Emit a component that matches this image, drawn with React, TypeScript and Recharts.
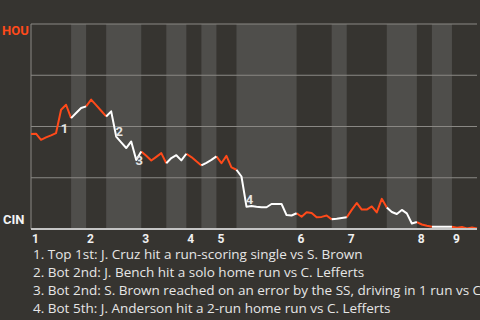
import React from 'react';
import { LineChart, Line, XAxis, YAxis, ReferenceArea, ReferenceLine, ReferenceDot } from 'recharts';

// Inning labels and the event index where each inning's top half starts
const innings = ['1', '2', '3', '4', '5', '6', '7', '8', '9'];
const inningStartEvents = [0, 11, 22, 31, 37, 53, 63, 77, 84];
// Boundaries of each half inning (top, bottom, top, bottom, ...) in event index
const halfInningBounds = [0, 8, 11, 15, 22, 27, 31, 34, 37, 41, 53, 60, 63, 71, 77, 80, 84, 89];
// HOU win probability (%) after each event
const houWinPct = [
  46.3, 46.5, 43.5, 44.7, 45.7, 46.8, 58.2, 60.6, 54.1, 56.6,
  59.0, 59.8, 63.1, 60.4, 57.7, 54.9, 57.4, 45.1, 42.3, 39.5,
  42.7, 33.7, 37.8, 35.7, 33.4, 35.2, 37.0, 32.1, 34.6, 36.0,
  33.5, 36.7, 35.1, 33.0, 31.0, 32.3, 33.7, 35.4, 32.1, 35.7,
  30.1, 28.9, 25.6, 10.9, 11.2, 10.8, 10.6, 10.6, 12.2, 12.2,
  12.2, 6.8, 6.6, 7.7, 6.0, 8.2, 7.8, 5.7, 5.9, 6.6,
  4.7, 5.0, 5.4, 5.7, 9.3, 12.7, 9.5, 9.5, 11.0, 8.1,
  14.7, 10.5, 8.3, 7.3, 9.3, 7.6, 2.7, 3.4, 2.2, 1.6,
  1.1, 1.1, 1.1, 1.1, 1.1, 0.6, 1.0, 0.3, 0.7, 0.2,
];
const yTicks = [25, 50, 75, 100];
const notes = [
  '1. Top 1st: J. Cruz hit a run-scoring single vs S. Brown',
  '2. Bot 2nd: J. Bench hit a solo home run vs C. Lefferts',
  '3. Bot 2nd: S. Brown reached on an error by the SS, driving in 1 run vs C. Lefferts',
  '4. Bot 5th: J. Anderson hit a 2-run home run vs C. Lefferts',
];
const noteMarkers = [
  { label: '1', event: 6.7, pct: 48.9 },
  { label: '2', event: 17.6, pct: 47.5 },
  { label: '3', event: 21.6, pct: 33.7 },
  { label: '4', event: 43.6, pct: 14.3 },
];

const ORANGE = '#ff4a1a';
const WHITE = '#ffffff';
const BG = '#363430';
const BAND = '#4f4e4b';
const GRID = '#8a8884';
const FONT = 'Roboto, "Noto Sans", sans-serif';
const TEXT_FONT = '"Open Sans", "Noto Sans", sans-serif';

const inHalf = (i: number, parity: number) => {
  for (let k = parity; k < halfInningBounds.length - 1; k += 2) {
    if (i >= halfInningBounds[k] && i <= halfInningBounds[k + 1]) return true;
  }
  return false;
};

const data = houWinPct.map((v, i) => ({
  x: i,
  top: inHalf(i, 0) ? v : null,
  bot: inHalf(i, 1) ? v : null,
}));

const bottomHalves: [number, number][] = [];
for (let k = 1; k < halfInningBounds.length - 1; k += 2) {
  bottomHalves.push([halfInningBounds[k], halfInningBounds[k + 1]]);
}

const InningTick = (props: any) => {
  const { x, y, payload } = props;
  const idx = inningStartEvents.indexOf(payload.value);
  return (
    <text x={x + 1} y={y + 12} textAnchor="start" fill="#f0f0f0" fontSize={12} fontWeight={700} fontFamily={FONT}>
      {innings[idx]}
    </text>
  );
};

export default function App() {
  return (
    <div style={{ position: 'absolute', left: 0, top: 0, width: 480, height: 320, background: BG, overflow: 'hidden' }}>
      <LineChart width={480} height={320} data={data} margin={{ top: 24, right: 3, bottom: 71, left: 31 }}>
        <XAxis
          type="number"
          dataKey="x"
          domain={[0, 89]}
          ticks={inningStartEvents}
          tick={<InningTick />}
          tickLine={false}
          tickSize={0}
          height={20}
          axisLine={{ stroke: '#c4c4c4', strokeWidth: 2 }}
          interval={0}
        />
        <YAxis hide domain={[0, 100]} type="number" />
        {bottomHalves.map(([a, b]) => (
          <ReferenceArea key={a} x1={a} x2={b} y1={0} y2={100} fill={BAND} fillOpacity={1} stroke="none" ifOverflow="visible" />
        ))}
        {yTicks.map((t) => (
          <ReferenceLine key={t} y={t} stroke={GRID} strokeWidth={1} ifOverflow="visible" />
        ))}
        <ReferenceLine x={0} stroke={GRID} strokeWidth={1} ifOverflow="visible" />
        {noteMarkers.map((m) => (
          <ReferenceDot
            key={m.label}
            x={m.event}
            y={m.pct}
            r={0}
            fill="none"
            stroke="none"
            ifOverflow="visible"
            label={{ value: m.label, position: 'center', fill: '#e4e4e4', fontSize: 13, fontWeight: 700, fontFamily: FONT }}
          />
        ))}
        <Line dataKey="top" stroke={ORANGE} strokeWidth={2} dot={false} activeDot={false} isAnimationActive={false} connectNulls={false} strokeLinejoin="round" />
        <Line dataKey="bot" stroke={WHITE} strokeWidth={2} dot={false} activeDot={false} isAnimationActive={false} connectNulls={false} strokeLinejoin="round" />
      </LineChart>
      <div style={{ position: 'absolute', left: 2, top: 23, color: ORANGE, fontFamily: FONT, fontWeight: 700, fontSize: 13, lineHeight: '16px' }}>HOU</div>
      <div style={{ position: 'absolute', left: 3, top: 212, color: '#f4f4f4', fontFamily: FONT, fontWeight: 700, fontSize: 13, lineHeight: '16px' }}>CIN</div>
      {notes.map((n, i) => (
        <div
          key={n}
          style={{ position: 'absolute', left: 33, top: 246 + i * 18, color: '#e6e6e6', fontFamily: TEXT_FONT, fontSize: 13.5, lineHeight: '16px', whiteSpace: 'nowrap' }}
        >
          {n}
        </div>
      ))}
    </div>
  );
}
